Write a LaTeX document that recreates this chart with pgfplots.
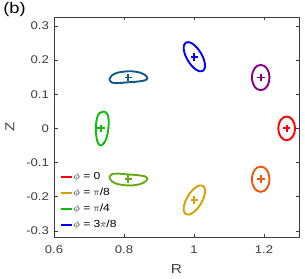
\documentclass[border=0pt]{standalone}
\usepackage{fontspec}
\setmainfont{Liberation Sans}[FakeStretch=1.18]
\usepackage{pgfplots}
\pgfplotsset{compat=1.18}
\usetikzlibrary{calc}
\definecolor{cRed}{RGB}{255,0,0}
\definecolor{cOrange}{RGB}{240,85,15}
\definecolor{cGold}{RGB}{215,160,0}
\definecolor{cOlive}{RGB}{100,170,20}
\definecolor{cGreen}{RGB}{10,190,10}
\definecolor{cTeal}{RGB}{15,90,135}
\definecolor{cBlue}{RGB}{0,0,255}
\definecolor{cPurple}{RGB}{130,0,140}
\definecolor{axgray}{RGB}{60,60,60}
\pgfplotsset{curve/.style={smooth, mark=none, line width=1.9pt},
  ctr/.style={only marks, mark=+, mark size=3.8bp, forget plot, mark options={line width=1.8pt}}}
\begin{document}
\begin{tikzpicture}
\begin{axis}[
  scale only axis, width=245bp, height=220bp,
  xmin=0.6, xmax=1.3, ymin=-0.318, ymax=0.326,
  xtick={0.6,0.8,1.0,1.2}, xticklabels={0.6,0.8,1,1.2},
  ytick={-0.3,-0.2,-0.1,0,0.1,0.2,0.3},
  yticklabels={-0.3,-0.2,-0.1,0,0.1,0.2,0.3},
  major tick length=3.5bp,
  tick align=inside,
  axis line style={axgray, line width=0.5pt},
  every tick/.style={axgray, line width=0.5pt},
  ticklabel style={font=\fontsize{11.2}{13}\selectfont, text=axgray},
  xticklabel style={yshift=-5bp},
  yticklabel style={xshift=-1.5bp},
  xlabel={R}, ylabel={Z},
  label style={font=\fontsize{13}{15}\selectfont, text=axgray},
  xlabel style={at={(0.5,0)}, anchor=center, yshift=-32bp},
  ylabel style={at={(0,0.5)}, anchor=center, yshift=44bp},
  legend style={at={(0.02,0.02)}, anchor=south west, draw=none, fill=none,
    font=\fontsize{10.3}{12}\selectfont, row sep=3.2pt, inner sep=1pt,
    nodes={inner xsep=1pt}},
  legend cell align=left,
  legend image code/.code={\draw[#1, line width=1.9pt] (0bp,0bp) -- (11bp,0bp);},
]
% legend curves
\addplot[cRed, curve] coordinates {
(1.2886,0)(1.2868,0.0133)(1.2816,0.0245)(1.2739,0.0321)(1.2648,0.0347)(1.2557,0.0321)(1.2480,0.0245)(1.2428,0.0133)(1.2410,0)(1.2428,-0.0133)(1.2480,-0.0245)(1.2557,-0.0321)(1.2648,-0.0347)(1.2739,-0.0321)(1.2816,-0.0245)(1.2868,-0.0133)(1.2886,0)};
\addlegendentry{$\phi$ = 0}
\addplot[cGold, curve] coordinates {
(1.0254,-0.1683)(1.0306,-0.1758)(1.0312,-0.1885)(1.0273,-0.2044)(1.0193,-0.2211)(1.0086,-0.2361)(0.9967,-0.2471)(0.9854,-0.2524)(0.9766,-0.2511)(0.9714,-0.2436)(0.9708,-0.2309)(0.9747,-0.2150)(0.9827,-0.1983)(0.9934,-0.1833)(1.0053,-0.1723)(1.0166,-0.1670)(1.0254,-0.1683)};
\addlegendentry{$\phi$ = $\pi$/8}
\addplot[cGreen, curve] coordinates {
(0.7443,0.0494)(0.7529,0.0406)(0.7563,0.0244)(0.7557,0.0038)(0.7529,-0.0168)(0.7471,-0.0359)(0.7371,-0.0491)(0.7286,-0.0476)(0.7229,-0.0344)(0.7200,-0.0138)(0.7200,0.0097)(0.7229,0.0303)(0.7300,0.0450)(0.7443,0.0494)};
\addlegendentry{$\phi$ = $\pi$/4}
\addplot[cBlue, curve] coordinates {
(1.0254,0.1683)(1.0306,0.1758)(1.0312,0.1885)(1.0273,0.2044)(1.0193,0.2211)(1.0086,0.2361)(0.9967,0.2471)(0.9854,0.2524)(0.9766,0.2511)(0.9714,0.2436)(0.9708,0.2309)(0.9747,0.2150)(0.9827,0.1983)(0.9934,0.1833)(1.0053,0.1723)(1.0166,0.1670)(1.0254,0.1683)};
\addlegendentry{$\phi$ = 3$\pi$/8}
% other curves
\addplot[cOrange, curve, forget plot] coordinates {
(1.2156,-0.1488)(1.2137,-0.1630)(1.2083,-0.1750)(1.2002,-0.1830)(1.1906,-0.1858)(1.1810,-0.1830)(1.1729,-0.1750)(1.1675,-0.1630)(1.1656,-0.1488)(1.1675,-0.1346)(1.1729,-0.1226)(1.1810,-0.1146)(1.1906,-0.1118)(1.2002,-0.1146)(1.2083,-0.1226)(1.2137,-0.1346)(1.2156,-0.1488)};
\addplot[cPurple, curve, forget plot] coordinates {
(1.2156,0.1488)(1.2137,0.1630)(1.2083,0.1750)(1.2002,0.1830)(1.1906,0.1858)(1.1810,0.1830)(1.1729,0.1750)(1.1675,0.1630)(1.1656,0.1488)(1.1675,0.1346)(1.1729,0.1226)(1.1810,0.1146)(1.1906,0.1118)(1.2002,0.1146)(1.2083,0.1226)(1.2137,0.1346)(1.2156,0.1488)};
\addplot[cTeal, curve, forget plot] coordinates {
(0.758,0.1435)(0.7657,0.1553)(0.78,0.1626)(0.8,0.1662)(0.8229,0.1671)(0.8457,0.1632)(0.8614,0.1553)(0.8666,0.1471)(0.86,0.1406)(0.8371,0.1368)(0.8086,0.1347)(0.78,0.1324)(0.7643,0.1347)(0.758,0.1435)};
\addplot[cOlive, curve, forget plot] coordinates {
(0.758,-0.1435)(0.7657,-0.1553)(0.78,-0.1626)(0.8,-0.1662)(0.8229,-0.1671)(0.8457,-0.1632)(0.8614,-0.1553)(0.8666,-0.1471)(0.86,-0.1406)(0.8371,-0.1368)(0.8086,-0.1347)(0.78,-0.1324)(0.7643,-0.1347)(0.758,-0.1435)};
% centres
\addplot[cRed, ctr] coordinates {(1.2648,0)};
\addplot[cOrange, ctr] coordinates {(1.1906,-0.1488)};
\addplot[cGold, ctr] coordinates {(1.001,-0.2097)};
\addplot[cOlive, ctr] coordinates {(0.8123,-0.1488)};
\addplot[cGreen, ctr] coordinates {(0.735,0)};
\addplot[cTeal, ctr] coordinates {(0.8123,0.1488)};
\addplot[cBlue, ctr] coordinates {(1.001,0.2097)};
\addplot[cPurple, ctr] coordinates {(1.1906,0.1488)};
\end{axis}
\path (current axis.south west) ++(-54bp,-41bp) coordinate (bbsw);
\path (current axis.north east) ++(6bp,17bp) coordinate (bbne);
\useasboundingbox (bbsw) rectangle (bbne);
\node[font=\fontsize{15.5}{18}\selectfont, anchor=center] at ($(current axis.north west)+(-39.5bp,7bp)$) {(b)};
\end{tikzpicture}
\end{document}
